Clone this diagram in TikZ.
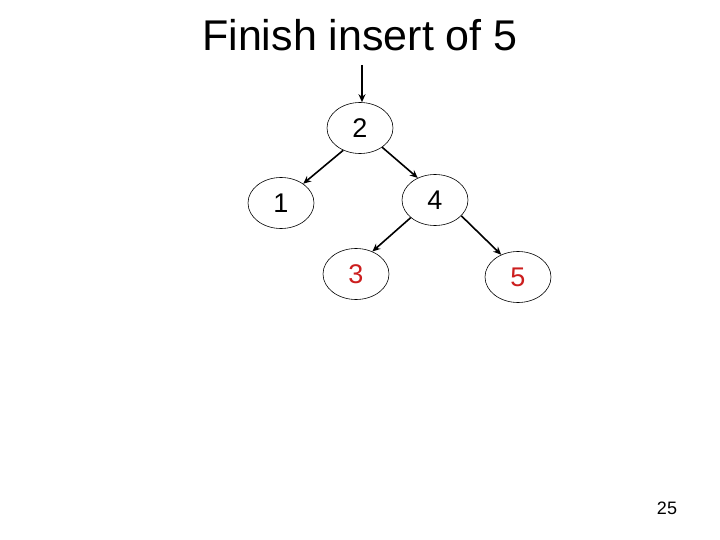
\documentclass[tikz,border=0pt]{standalone}
\usepackage{fontspec}
\setmainfont{Liberation Sans}
\usetikzlibrary{shapes.geometric,arrows.meta}
\definecolor{keyred}{RGB}{204,30,30}
\begin{document}
\begin{tikzpicture}[x=1pt,y=-1pt,
  treenode/.style={draw=black,line width=0.6pt,ellipse,minimum width=66pt,minimum height=51pt,inner sep=0pt,font=\fontsize{27}{27}\selectfont},
  link/.style={line width=1.6pt,-{Stealth[length=8pt,width=7pt]}}]
\useasboundingbox (0,0) rectangle (720,540);
\node[font=\fontsize{43}{43}\selectfont] (title) at (360,35) {Finish insert of 5};
\node[treenode] (n2) at (360,128) {2};
\node[treenode] (n1) at (281,203) {1};
\node[treenode] (n4) at (435,200) {4};
\node[treenode,text=keyred] (n3) at (356,274) {3};
\node[treenode,text=keyred] (n5) at (518,277) {5};
\coordinate (top) at (362,65);
\draw[link] (top) -- (n2.north -| top);
\draw[link] (n2.-127) -- (n1.41);
\draw[link] (n2.-41) -- (n4.128);
\draw[link] (n4.-144) -- (n3.54);
\draw[link] (n4.-31) -- (n5.127);
\node[font=\fontsize{18}{18}\selectfont] (page) at (667,508) {25};
\end{tikzpicture}
\end{document}
